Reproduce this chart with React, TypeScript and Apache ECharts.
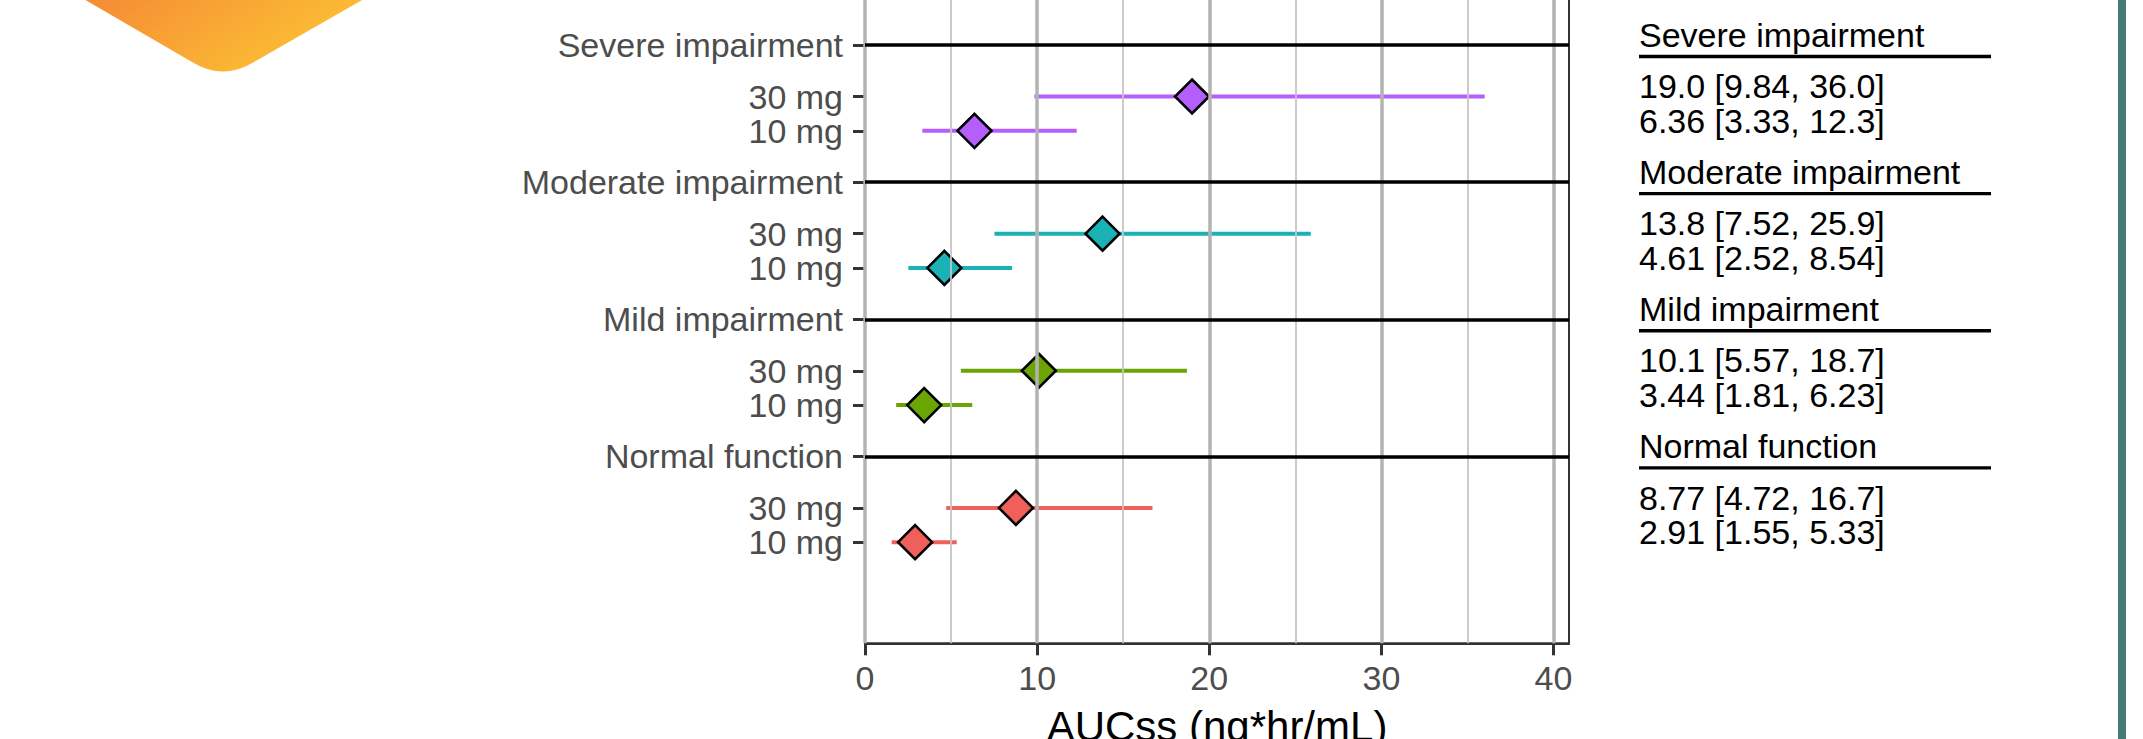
import React, { useEffect, useRef } from 'react';
import * as echarts from 'echarts';

// ---- data ----
const groups = ['Normal function', 'Mild impairment', 'Moderate impairment', 'Severe impairment'];
const doseLabels = ['10 mg', '30 mg'];
const gm10 = [2.91, 3.44, 4.61, 6.36];
const lo10 = [1.55, 1.81, 2.52, 3.33];
const hi10 = [5.33, 6.23, 8.54, 12.3];
const gm30 = [8.77, 10.1, 13.8, 19.0];
const lo30 = [4.72, 5.57, 7.52, 9.84];
const hi30 = [16.7, 18.7, 25.9, 36.0];
const xTicks = [0, 10, 20, 30, 40];
const xMinor = [5, 15, 25, 35];
const groupColors = ['#F0605A', '#6BA503', '#1BB2B5', '#B45EFB'];

const X_MAX = 40.9;
const Y_MIN = -1.95;
const Y_MAX = 18.05;
const FONT = "'Liberation Sans', Arial, sans-serif";

const pos10 = (g: number) => 1 + 4 * g;
const pos30 = (g: number) => 2 + 4 * g;
const posHeader = (g: number) => 3.5 + 4 * g;
const fmt = (v: number) => v.toPrecision(3);

export default function App() {
  const ref = useRef<HTMLDivElement>(null);

  useEffect(() => {
    if (!ref.current) return;
    echarts.graphic.registerShape(
      'logo',
      echarts.graphic.extendPath('M 51 -20 L 192 62 Q 223 81 254 62 L 397 -20 Z', {})
    );
    const chart = echarts.init(ref.current, null, { renderer: 'svg' });

    const tickVals: number[] = [];
    const labelMap: Record<string, string> = {};
    groups.forEach((g, i) => {
      tickVals.push(pos10(i), pos30(i), posHeader(i));
      labelMap[pos10(i).toFixed(2)] = doseLabels[0];
      labelMap[pos30(i).toFixed(2)] = doseLabels[1];
      labelMap[posHeader(i).toFixed(2)] = g;
    });

    const series: any[] = [];
    // gridlines
    series.push({
      type: 'scatter',
      data: [],
      z: 0,
      silent: true,
      markLine: {
        silent: true,
        symbol: ['none', 'none'],
        label: { show: false },
        animation: false,
        data: [
          ...xMinor.map((v) => ({ xAxis: v, lineStyle: { color: '#C6C6C6', width: 1.8, type: 'solid' } })),
          ...xTicks.map((v) => ({ xAxis: v, lineStyle: { color: '#B3B3B3', width: 3.5, type: 'solid' } })),
        ],
      },
    });
    // header lines
    series.push({
      type: 'scatter',
      data: [],
      z: 1,
      silent: true,
      markLine: {
        silent: true,
        symbol: ['none', 'none'],
        label: { show: false },
        animation: false,
        lineStyle: { color: '#000', width: 3.6, type: 'solid' },
        data: groups.map((_, i) => ({ yAxis: posHeader(i) })),
      },
    });

    groups.forEach((g, i) => {
      const color = groupColors[i];
      series.push({
        type: 'custom',
        name: g + ' CI',
        z: 3,
        data: [
          [lo30[i], hi30[i], pos30(i)],
          [lo10[i], hi10[i], pos10(i)],
        ],
        encode: { x: [0, 1], y: 2 },
        renderItem: (params: any, api: any) => {
          const p1 = api.coord([api.value(0), api.value(2)]);
          const p2 = api.coord([api.value(1), api.value(2)]);
          return {
            type: 'line',
            shape: { x1: p1[0], y1: p1[1], x2: p2[0], y2: p2[1] },
            style: { stroke: color, lineWidth: 4 },
          };
        },
      });
      series.push({
        type: 'scatter',
        name: g,
        z: 4,
        symbol: 'diamond',
        symbolSize: 34,
        itemStyle: { color, borderColor: '#000', borderWidth: 2.6, opacity: 1 },
        data: [
          [gm30[i], pos30(i)],
          [gm10[i], pos10(i)],
        ],
      });
    });

    const axisLineStyle = { color: '#333', width: 2 };

    chart.setOption({
      animation: false,
      backgroundColor: '#fff',
      grid: {
        left: 865,
        right: 2143 - 1569,
        top: -42.3,
        bottom: 739 - 643.3,
        outerBoundsMode: 'none',
        containLabel: false,
        show: true,
        borderColor: '#333',
        borderWidth: 2,
        backgroundColor: 'transparent',
      },
      xAxis: {
        type: 'value',
        min: 0,
        max: X_MAX,
        interval: 10,
        splitLine: { show: false },
        axisLine: { show: true, onZero: false, lineStyle: axisLineStyle },
        axisTick: { show: true, length: 12, customValues: xTicks, lineStyle: { color: '#333', width: 3 } },
        axisLabel: {
          customValues: xTicks,
          margin: 18,
          color: '#4D4D4D',
          fontSize: 34,
          fontFamily: FONT,
        },
        name: 'AUCss (ng*hr/mL)',
        nameLocation: 'middle',
        nameGap: 62,
        nameTextStyle: { color: '#000', fontSize: 42, fontFamily: FONT },
      },
      yAxis: {
        type: 'value',
        min: Y_MIN,
        max: Y_MAX,
        splitLine: { show: false },
        axisLine: { show: true, onZero: false, lineStyle: axisLineStyle },
        axisTick: { show: true, length: 12, customValues: tickVals, lineStyle: { color: '#333', width: 3 } },
        axisLabel: {
          customValues: tickVals,
          margin: 22,
          color: '#4D4D4D',
          fontSize: 34,
          fontFamily: FONT,
          hideOverlap: false,
          formatter: (v: number) => labelMap[Number(v).toFixed(2)] ?? '',
        },
      },
      series,
    });

    // table on the right, aligned with the y-axis positions
    const tableX = 1639;
    const toY = (v: number) => chart.convertToPixel({ yAxisIndex: 0 }, v) as number;
    const graphics: any[] = [
      {
        type: 'logo',
        x: 0,
        y: 0,
        silent: true,
        style: {
          fill: {
            type: 'linear',
            x: 0,
            y: 0,
            x2: 1,
            y2: 0.4,
            colorStops: [
              { offset: 0, color: '#F47F36' },
              { offset: 1, color: '#FCC433' },
            ],
          },
        },
      },
      {
        type: 'rect',
        silent: true,
        shape: { x: 2118, y: 0, width: 8, height: 739 },
        style: { fill: '#467A76' },
      },
    ];
    groups.forEach((g, i) => {
      const hy = toY(posHeader(i));
      graphics.push({
        type: 'text',
        x: tableX,
        y: hy - 10.3,
        silent: true,
        style: { text: g, fontSize: 34, fontFamily: FONT, fill: '#000', align: 'left', verticalAlign: 'middle' },
      });
      graphics.push({
        type: 'line',
        silent: true,
        shape: { x1: tableX, y1: hy + 11.4, x2: 1991, y2: hy + 11.4 },
        style: { stroke: '#000', lineWidth: 3.3 },
      });
      const rows = [
        { y: toY(pos30(i)), t: `${fmt(gm30[i])} [${fmt(lo30[i])}, ${fmt(hi30[i])}]` },
        { y: toY(pos10(i)), t: `${fmt(gm10[i])} [${fmt(lo10[i])}, ${fmt(hi10[i])}]` },
      ];
      rows.forEach((r) => {
        graphics.push({
          type: 'text',
          x: tableX,
          y: r.y - 10.3,
          silent: true,
          style: { text: r.t, fontSize: 34, fontFamily: FONT, fill: '#000', align: 'left', verticalAlign: 'middle' },
        });
      });
    });
    chart.setOption({ graphic: graphics });

    return () => {
      chart.dispose();
    };
  }, []);

  return (
    <div
      ref={ref}
      style={{ position: 'fixed', left: 0, top: 0, width: 2143, height: 739 }}
    />
  );
}
